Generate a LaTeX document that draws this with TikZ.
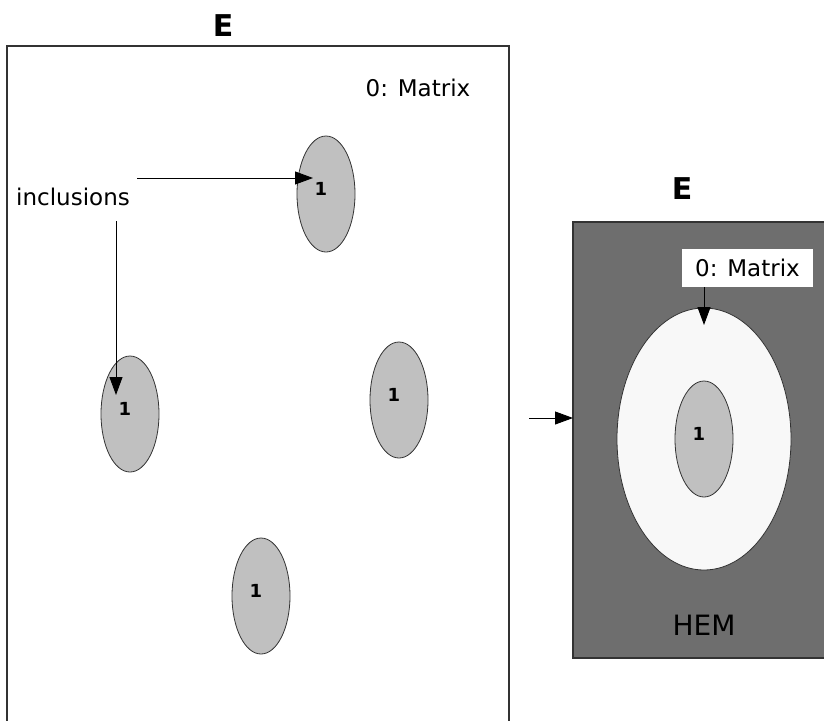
\documentclass[tikz,border=0pt]{standalone}
\usepackage{fontspec}
\setmainfont{DejaVu Sans}
\usepackage {tikz}
\usetikzlibrary {positioning}
\usetikzlibrary{shapes.geometric}
\usetikzlibrary{arrows.meta}
\definecolor{inclgray}{HTML}{C0C0C0}
\definecolor{hemgray}{HTML}{6E6E6E}
\definecolor{matrixwhite}{HTML}{F8F8F8}
\definecolor{edgegray}{HTML}{333333}
\tikzset{
    incl/.style = {ellipse,draw=edgegray,fill=inclgray,line width=0.8pt,minimum width=58pt,minimum height=116pt,inner sep=0pt},
    inclabel/.style = {font=\fontsize{18}{18}\selectfont\bfseries,inner sep=0pt},
    title/.style = {font=\fontsize{30}{30}\selectfont\bfseries},
    lbl/.style = {font=\fontsize{23}{23}\selectfont},
    arr/.style = {-{Triangle[length=18pt,width=13pt]},line width=0.9pt},
    frame/.style = {draw=edgegray,line width=1.3pt}}

\begin{document}
\begin{tikzpicture}[x=1pt,y=-1pt]
        \useasboundingbox (0,0) rectangle (824,720);
        % left panel
        \draw[frame,fill=white] (7,46) rectangle (509,730);
        \node[title] (Eleft) at (223,26) {E};
        \node[lbl] (Mleft) at (418,88) {0: Matrix};
        \node[lbl] (inclusions) at (73,197) {inclusions};
        \foreach \n/\x/\y in {ia/326/194,ib/130/414,ic/399/400,id/261/596} {
            \node[incl] (\n) at (\x,\y) {};
            \node[inclabel] (\n one) at ([shift={(-5,-5)}]\n.center) {1};
        }
        \coordinate (starta) at (137,178);
        \coordinate (tipa) at (313,178);
        \coordinate (startb) at (116,221);
        \coordinate (tipb) at (116,395);
        \draw[arr] (starta) -- (tipa);
        \draw[arr] (startb) -- (tipb);
        % right panel
        \draw[frame,fill=hemgray] (573,222) rectangle (830,658);
        \node[title] (Eright) at (682,189) {E};
        \node[ellipse,draw=edgegray,fill=matrixwhite,line width=0.8pt,minimum width=174pt,minimum height=262pt] (matrix) at (704,439) {};
        \node[incl] (ie) at (704,439) {};
        \node[inclabel] (ie one) at ([shift={(-5,-5)}]ie.center) {1};
        \node[lbl,fill=white,minimum width=131pt,minimum height=38pt,inner sep=0pt] (Mright) at (747.5,268) {0: Matrix};
        \coordinate (tipm) at (704,325);
        \draw[arr] (tipm |- Mright.south) -- (tipm);
        \node[lbl,font=\fontsize{28}{28}\selectfont] (hem) at (704,625) {HEM};
        \coordinate (tail) at (529,418);
        \coordinate (boxleft) at (573,418);
        \draw[arr] (tail) -- (boxleft);
\end{tikzpicture}
\end{document}
